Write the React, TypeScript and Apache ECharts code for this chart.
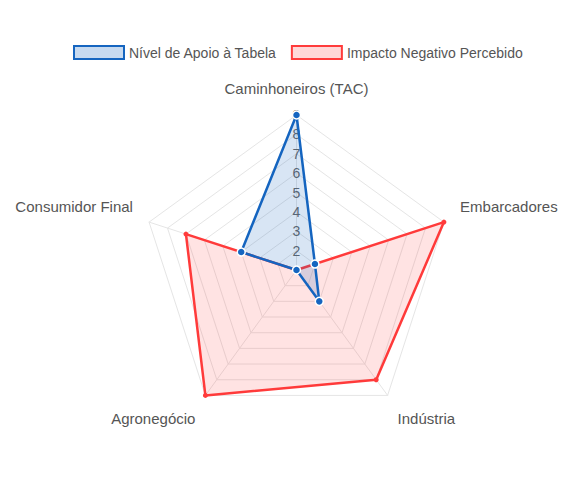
import { useEffect, useRef } from "react";
import * as echarts from "echarts";

// eixos na ordem horária, a partir do topo
const indicators = [
  "Caminhoneiros (TAC)",
  "Embarcadores",
  "Indústria",
  "Agronegócio",
  "Consumidor Final"
];
const apoio = [9, 2, 3, 1, 4];
const impacto = [1, 9, 8, 9, 7];
const seriesNames = ["Nível de Apoio à Tabela", "Impacto Negativo Percebido"];

const scaleMin = 1;
const scaleMax = 9;

const FONT = "'Liberation Sans', Arial, Helvetica, sans-serif";
const BLUE = "#1565C0";
const BLUE_FILL = "rgba(21, 101, 192, 0.24)";
const RED = "#FF3B3B";
const RED_FILL = "rgba(255, 59, 59, 0.2)";

// ECharts percorre o radar no sentido anti-horário
const order = [0, 4, 3, 2, 1];

export default function App(): JSX.Element {
  const rootRef = useRef<HTMLDivElement | null>(null);

  useEffect(() => {
    if (!rootRef.current) return undefined;
    const chart = echarts.init(rootRef.current, undefined, { renderer: "svg" });

    const nameStyle = { color: "#555", fontSize: 15, fontFamily: FONT };
    const tickLabel = {
      margin: 0,
      align: "center",
      verticalAlign: "middle",
      showMinLabel: false,
      color: "#666",
      fontSize: 14,
      fontFamily: FONT
    };

    const option: echarts.EChartsOption = {
      animation: false,
      textStyle: { fontFamily: FONT },
      legend: {
        top: 40,
        left: 68,
        itemWidth: 50,
        itemHeight: 13,
        itemGap: 14,
        textStyle: { color: "#555", fontSize: 14, fontFamily: FONT },
        data: [
          {
            name: seriesNames[0],
            icon: "rect",
            itemStyle: { color: BLUE_FILL, borderColor: BLUE, borderWidth: 2 }
          },
          {
            name: seriesNames[1],
            icon: "rect",
            itemStyle: { color: RED_FILL, borderColor: RED, borderWidth: 2 }
          }
        ]
      },
      radar: {
        center: [296.5, 270],
        radius: 155,
        shape: "polygon",
        splitNumber: scaleMax - scaleMin,
        nameGap: 17,
        axisName: {
          ...nameStyle,
          formatter: (name?: string) => {
            const idx = indicators.indexOf(name ?? "");
            if (idx === 0) return `{top|${name}}`;
            if (idx === 1 || idx === 4) return `{side|${name}}`;
            return `{bottom|${name}}`;
          },
          rich: {
            top: { ...nameStyle, padding: [0, 0, 2, 0] },
            side: { ...nameStyle, padding: [0, 0, 20, 0] },
            bottom: { ...nameStyle, padding: [18, 0, 0, 0] }
          }
        } as any,
        splitLine: { lineStyle: { color: "#e5e5e5", width: 1 } },
        splitArea: { show: false },
        axisLine: { lineStyle: { color: "#e5e5e5", width: 1 } },
        axisTick: { show: false },
        axisLabel: { show: false, ...tickLabel } as any,
        indicator: order.map((i, k) => ({
          name: indicators[i],
          min: scaleMin,
          max: scaleMax,
          axisLabel: k === 0 ? { show: true, ...tickLabel } : { show: false }
        })) as any
      },
      series: [
        {
          type: "radar",
          name: seriesNames[1],
          z: 2,
          symbol: "circle",
          symbolSize: 5,
          lineStyle: { color: RED, width: 2.5 },
          areaStyle: { color: RED_FILL },
          itemStyle: { color: RED },
          data: [{ name: seriesNames[1], value: order.map(i => impacto[i]) }]
        },
        {
          type: "radar",
          name: seriesNames[0],
          z: 3,
          symbol: "circle",
          symbolSize: 8,
          lineStyle: { color: BLUE, width: 2.5 },
          areaStyle: { color: BLUE_FILL },
          itemStyle: { color: BLUE, borderColor: "#fff", borderWidth: 1.5 },
          data: [{ name: seriesNames[0], value: order.map(i => apoio[i]) }]
        }
      ]
    };

    chart.setOption(option);
    return () => chart.dispose();
  }, []);

  return (
    <div
      ref={rootRef}
      style={{ position: "fixed", left: 0, top: 0, width: 580, height: 483, background: "#fff" }}
    />
  );
}
